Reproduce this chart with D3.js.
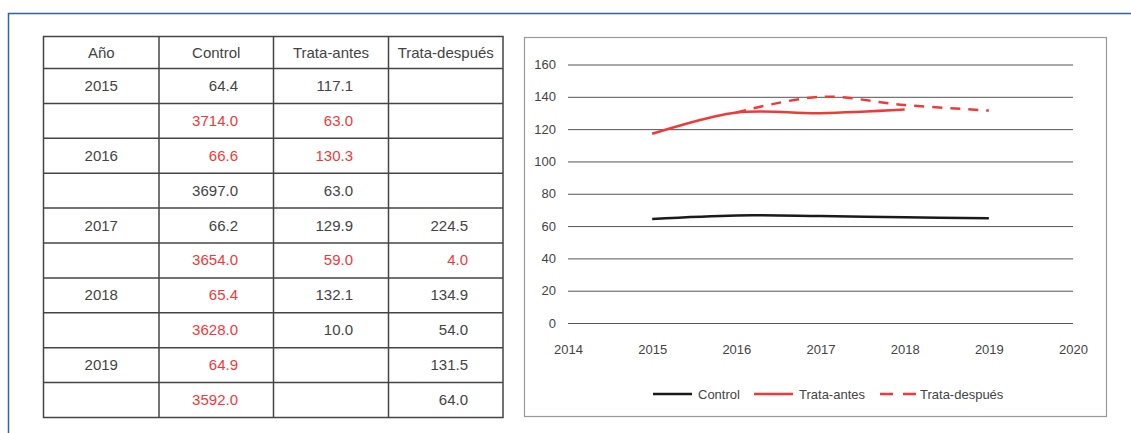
<!DOCTYPE html>
<html>
<head>
<meta charset="utf-8">
<script src="https://cdn.jsdelivr.net/npm/d3@7"></script>
<style>
  body { margin: 0; background: #fff; }
  svg { display: block; font-family: "Liberation Sans", Arial, sans-serif; }
</style>
</head>
<body>
<script>
// table data
const headers = ["Año", "Control", "Trata-antes", "Trata-después"];
const tableRows = [
  ["2015", "64.4", "117.1", ""],
  ["", "3714.0", "63.0", ""],
  ["2016", "66.6", "130.3", ""],
  ["", "3697.0", "63.0", ""],
  ["2017", "66.2", "129.9", "224.5"],
  ["", "3654.0", "59.0", "4.0"],
  ["2018", "65.4", "132.1", "134.9"],
  ["", "3628.0", "10.0", "54.0"],
  ["2019", "64.9", "", "131.5"],
  ["", "3592.0", "", "64.0"]
];
// which cells are red (same shape as tableRows)
const redCells = [
  [0, 0, 0, 0],
  [0, 1, 1, 0],
  [0, 1, 1, 0],
  [0, 0, 0, 0],
  [0, 0, 0, 0],
  [0, 1, 1, 1],
  [0, 1, 0, 0],
  [0, 1, 0, 0],
  [0, 1, 0, 0],
  [0, 1, 0, 0]
];

// chart data
const controlYears = [2015, 2016, 2017, 2018, 2019];
const controlVals = [64.4, 66.6, 66.2, 65.4, 64.9];
const antesYears = [2015, 2016, 2017, 2018];
const antesVals = [117.1, 130.3, 129.9, 132.1];
const despuesYears = [2016, 2017, 2018, 2019];
const despuesVals = [130.3, 140.0, 134.9, 131.5];
const yTicks = [0, 20, 40, 60, 80, 100, 120, 140, 160];
const xTicks = [2014, 2015, 2016, 2017, 2018, 2019, 2020];

const W = 1131, H = 433;
const red = "#f03a3a", textCol = "#444";

const svg = d3.select("body").append("svg")
  .attr("width", W)
  .attr("height", H);

// outer blue frame
svg.append("path")
  .attr("d", "M8.5," + H + " V13.5 H" + W)
  .attr("fill", "none")
  .attr("stroke", "#2a63ad")
  .attr("stroke-width", 1.5);

// ---- table ----
const colEdges = [43.5, 159, 273.5, 388.5, 503];
const tTop = 36.5, headH = 32, rowH = 34.9;
const tBottom = tTop + headH + rowH * tableRows.length;
const rightAlign = [null, 238, 353, 468];

const tbl = svg.append("g");
tbl.append("rect")
  .attr("x", colEdges[0]).attr("y", tTop)
  .attr("width", colEdges[4] - colEdges[0]).attr("height", tBottom - tTop)
  .attr("fill", "none").attr("stroke", "#444").attr("stroke-width", 1.5);

colEdges.slice(1, 4).forEach(x => {
  tbl.append("line")
    .attr("x1", x).attr("x2", x).attr("y1", tTop).attr("y2", tBottom)
    .attr("stroke", "#444").attr("stroke-width", 1.5);
});
d3.range(tableRows.length).forEach(i => {
  const y = tTop + headH + rowH * i;
  tbl.append("line")
    .attr("x1", colEdges[0]).attr("x2", colEdges[4]).attr("y1", y).attr("y2", y)
    .attr("stroke", "#444").attr("stroke-width", 1.5);
});

headers.forEach((h, j) => {
  tbl.append("text")
    .attr("x", (colEdges[j] + colEdges[j + 1]) / 2)
    .attr("y", tTop + headH / 2 + 5)
    .attr("text-anchor", "middle")
    .attr("font-size", "15px")
    .attr("fill", textCol)
    .text(h);
});

tableRows.forEach((row, i) => {
  const cy = tTop + headH + rowH * i + rowH / 2 + 5;
  row.forEach((v, j) => {
    if (!v) return;
    tbl.append("text")
      .attr("x", j === 0 ? (colEdges[0] + colEdges[1]) / 2 : rightAlign[j])
      .attr("y", cy)
      .attr("text-anchor", j === 0 ? "middle" : "end")
      .attr("font-size", "15px")
      .attr("fill", redCells[i][j] ? red : textCol)
      .text(v);
  });
});

// ---- chart ----
svg.append("rect")
  .attr("x", 524.5).attr("y", 37.5)
  .attr("width", 582).attr("height", 379)
  .attr("fill", "none").attr("stroke", "#999").attr("stroke-width", 1.2);

const x = d3.scaleLinear().domain([2014, 2020]).range([568, 1073]);
const y = d3.scaleLinear().domain([0, 160]).range([323, 64.5]);

const chart = svg.append("g");

// horizontal grid via axis
chart.append("g")
  .attr("transform", "translate(" + x(2014) + ",0)")
  .call(d3.axisLeft(y).tickValues(yTicks).tickSize(-(x(2020) - x(2014))).tickPadding(12))
  .call(g => g.select(".domain").remove())
  .call(g => g.selectAll(".tick line").attr("stroke", "#555").attr("stroke-width", 1))
  .call(g => g.selectAll(".tick text")
    .attr("fill", textCol).attr("font-size", "13px")
    .attr("font-family", "Liberation Sans, Arial, sans-serif"));

chart.append("g")
  .attr("transform", "translate(0," + y(0) + ")")
  .call(d3.axisBottom(x).tickValues(xTicks).tickFormat(d3.format("d")).tickSize(0).tickPadding(22))
  .call(g => g.select(".domain").remove())
  .call(g => g.selectAll(".tick text")
    .attr("fill", textCol).attr("font-size", "13px")
    .attr("font-family", "Liberation Sans, Arial, sans-serif"));

const line = d3.line()
  .x(d => x(d[0]))
  .y(d => y(d[1]))
  .curve(d3.curveCatmullRom.alpha(0.5));

const series = [
  { name: "Trata-después", years: despuesYears, vals: despuesVals, color: red, dash: "10,8" },
  { name: "Trata-antes", years: antesYears, vals: antesVals, color: red, dash: null },
  { name: "Control", years: controlYears, vals: controlVals, color: "#1a1a1a", dash: null }
];

series.forEach(s => {
  chart.append("path")
    .datum(s.years.map((yr, i) => [yr, s.vals[i]]))
    .attr("fill", "none")
    .attr("stroke", s.color)
    .attr("stroke-width", 2.5)
    .attr("stroke-dasharray", s.dash)
    .attr("d", line);
});

// legend
const legend = [
  { name: "Control", color: "#1a1a1a", dash: null, x: 653 },
  { name: "Trata-antes", color: red, dash: null, x: 754 },
  { name: "Trata-después", color: red, dash: "13,10", x: 880 }
];
legend.forEach(l => {
  const g = svg.append("g").attr("transform", "translate(" + l.x + ",394)");
  g.append("line")
    .attr("x1", 0).attr("x2", l.dash ? 36 : 39)
    .attr("stroke", l.color).attr("stroke-width", 2.5)
    .attr("stroke-dasharray", l.dash);
  g.append("text")
    .attr("x", l.dash ? 40 : 45).attr("y", 5)
    .attr("font-size", "13px").attr("fill", textCol)
    .text(l.name);
});
</script>
</body>
</html>
